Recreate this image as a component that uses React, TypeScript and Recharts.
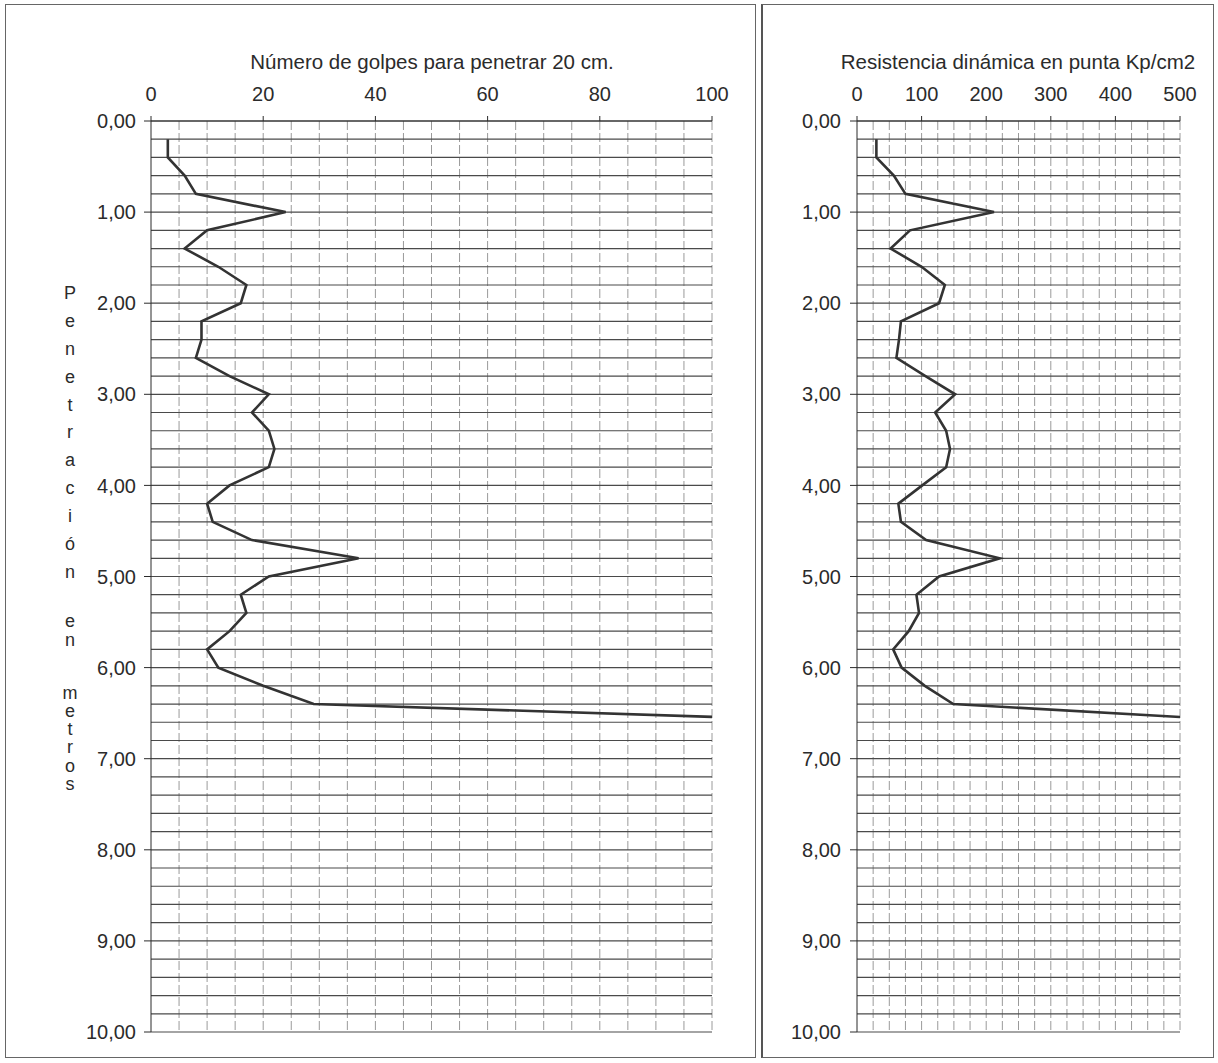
import React from "react";
import { LineChart, Line, XAxis, YAxis, ReferenceLine } from "recharts";

// profundidad (m) de cada lectura
const depth = [
  0.2, 0.4, 0.6, 0.8, 1.0, 1.2, 1.4, 1.6, 1.8, 2.0, 2.2, 2.4, 2.6, 2.8, 3.0, 3.2, 3.4,
  3.6, 3.8, 4.0, 4.2, 4.4, 4.6, 4.8, 5.0, 5.2, 5.4, 5.6, 5.8, 6.0, 6.2, 6.4, 6.6,
];
// golpes para penetrar 20 cm
const golpes = [
  3, 3, 6, 8, 24, 10, 6, 12, 17, 16, 9, 9, 8, 14, 21, 18, 21, 22, 21, 14, 10, 11, 18, 37,
  21, 16, 17, 14, 10, 12, 20, 29, 130,
];
// resistencia dinámica en punta (Kp/cm2)
const resistencia = [
  30, 30, 57, 75, 212, 82, 52, 100, 136, 127, 68, 65, 61, 106, 152, 121, 138, 144, 138,
  101, 64, 68, 107, 221, 127, 92, 96, 80, 56, 69, 105, 149, 640,
];

const depthTicks = [0, 1, 2, 3, 4, 5, 6, 7, 8, 9, 10];
const depthGrid = [
  0, 0.2, 0.4, 0.6, 0.8, 1, 1.2, 1.4, 1.6, 1.8, 2, 2.2, 2.4, 2.6, 2.8, 3, 3.2, 3.4, 3.6,
  3.8, 4, 4.2, 4.4, 4.6, 4.8, 5, 5.2, 5.4, 5.6, 5.8, 6, 6.2, 6.4, 6.6, 6.8, 7, 7.2, 7.4,
  7.6, 7.8, 8, 8.2, 8.4, 8.6, 8.8, 9, 9.2, 9.4, 9.6, 9.8, 10,
];
const golpesTicks = [0, 20, 40, 60, 80, 100];
const golpesGrid = [5, 10, 15, 20, 25, 30, 35, 40, 45, 50, 55, 60, 65, 70, 75, 80, 85, 90, 95, 100];
const resTicks = [0, 100, 200, 300, 400, 500];
const resGrid = [
  25, 50, 75, 100, 125, 150, 175, 200, 225, 250, 275, 300, 325, 350, 375, 400, 425, 450,
  475, 500,
];

// eje vertical: letras apiladas y su posición (px)
const yLabelChars = [
  "P", "e", "n", "e", "t", "r", "a", "c", "i", "ó", "n",
  "e", "n",
  "m", "e", "t", "r", "o", "s",
];
const yLabelTops = [
  293, 321, 349, 377, 405, 432, 460, 488, 516, 544, 572,
  621, 640,
  693, 711, 729, 747, 766, 784,
];

const FONT = "'Liberation Sans', Arial, sans-serif";
const INK = "#2b2b2b";

const golpesData = depth.map((d, i) => ({ depth: d, v: golpes[i] }));
const resData = depth.map((d, i) => ({ depth: d, v: resistencia[i] }));

const fmtDepth = (v: number) => v.toFixed(2).replace(".", ",");

type PanelProps = {
  data: { depth: number; v: number }[];
  width: number;
  max: number;
  ticks: number[];
  grid: number[];
  marginLeft: number;
  marginRight: number;
  tickMargin: number;
};

function Panel({ data, width, max, ticks, grid, marginLeft, marginRight, tickMargin }: PanelProps) {
  return (
    <LineChart
      width={width}
      height={1063}
      data={data}
      layout="vertical"
      margin={{ top: 81, right: marginRight, bottom: 31, left: marginLeft }}
      style={{ fontFamily: FONT }}
    >
      <XAxis
        type="number"
        orientation="top"
        dataKey="v"
        domain={[0, max]}
        ticks={ticks}
        allowDataOverflow
        height={40}
        tickSize={5}
        tickMargin={15}
        axisLine={{ stroke: INK }}
        tickLine={{ stroke: INK }}
        tick={{ fill: INK, fontSize: 20 }}
        interval={0}
      />
      <YAxis
        type="number"
        dataKey="depth"
        domain={[0, 10]}
        ticks={depthTicks}
        tickFormatter={fmtDepth}
        width={60}
        tickSize={7}
        tickMargin={tickMargin}
        axisLine={{ stroke: INK }}
        tickLine={{ stroke: INK }}
        tick={{ fill: INK, fontSize: 20 }}
        interval={0}
      />
      {grid.map((g) => (
        <ReferenceLine key={"v" + g} x={g} stroke="#9a9a9a" strokeDasharray="9 3" strokeWidth={1} />
      ))}
      {depthGrid.map((d) => (
        <ReferenceLine key={"h" + d} y={d} stroke="#4a4a4a" strokeWidth={1.2} />
      ))}
      <Line
        type="linear"
        dataKey="v"
        stroke="#333"
        strokeWidth={2.6}
        dot={false}
        isAnimationActive={false}
      />
    </LineChart>
  );
}

export default function App() {
  return (
    <div
      style={{
        position: "absolute",
        left: 0,
        top: 0,
        width: 1218,
        height: 1063,
        background: "#fff",
        fontFamily: FONT,
        color: INK,
      }}
    >
      <div
        style={{
          position: "absolute",
          left: 5,
          top: 4,
          width: 751,
          height: 1054,
          border: "1.5px solid #666",
          boxSizing: "border-box",
        }}
      />
      <div
        style={{
          position: "absolute",
          left: 761,
          top: 4,
          width: 453,
          height: 1054,
          border: "1.5px solid #666",
          borderLeft: "2px solid #555",
          boxSizing: "border-box",
        }}
      />
      <div style={{ position: "absolute", left: 0, top: 0 }}>
        <Panel
          data={golpesData}
          width={757}
          max={100}
          ticks={golpesTicks}
          grid={golpesGrid}
          marginLeft={91}
          marginRight={45}
          tickMargin={8}
        />
      </div>
      <div style={{ position: "absolute", left: 762, top: 0 }}>
        <Panel
          data={resData}
          width={456}
          max={500}
          ticks={resTicks}
          grid={resGrid}
          marginLeft={35}
          marginRight={38}
          tickMargin={9}
        />
      </div>
      <div
        style={{
          position: "absolute",
          left: 232,
          width: 400,
          top: 50,
          textAlign: "center",
          fontSize: 20.5,
        }}
      >
        Número de golpes para penetrar 20 cm.
      </div>
      <div
        style={{
          position: "absolute",
          left: 818,
          width: 400,
          top: 50,
          textAlign: "center",
          fontSize: 20.5,
        }}
      >
        Resistencia dinámica en punta Kp/cm2
      </div>
      {yLabelChars.map((c, i) => (
        <div
          key={i}
          style={{
            position: "absolute",
            left: 60,
            width: 20,
            top: yLabelTops[i] - 9,
            height: 18,
            lineHeight: "18px",
            textAlign: "center",
            fontSize: 18,
          }}
        >
          {c}
        </div>
      ))}
    </div>
  );
}
